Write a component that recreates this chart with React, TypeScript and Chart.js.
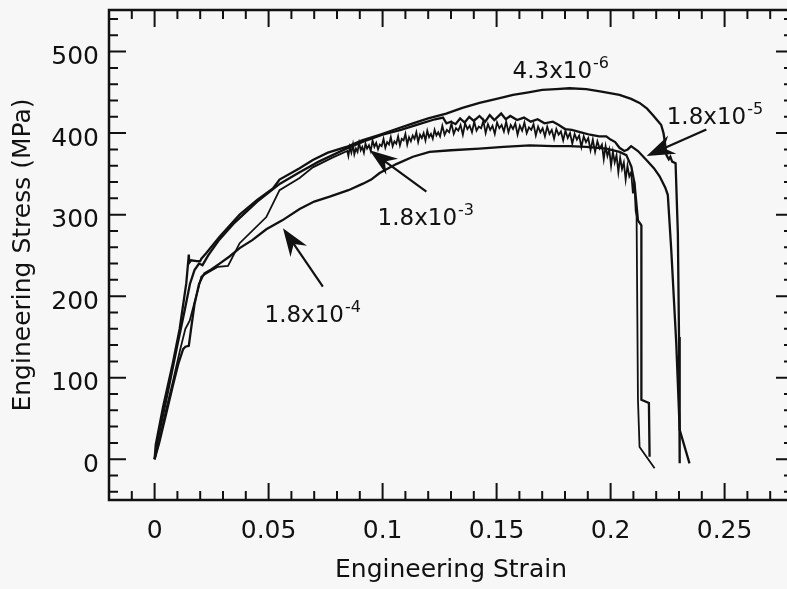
import { useEffect, useRef } from 'react';
import { Chart, registerables } from 'chart.js';

Chart.register(...registerables);

// ---- axis ticks ----
const strainTicks = [0, 0.05, 0.1, 0.15, 0.2, 0.25];
const strainTickLabels = ['0', '0.05', '0.1', '0.15', '0.2', '0.25'];
const stressTicks = [0, 100, 200, 300, 400, 500];
const stressTickLabels = ['0', '100', '200', '300', '400', '500'];

// ---- curve: strain rate 4.3x10^-6 ----
const rate43e6Strain = [
  0, 0.0005, 0.0037, 0.008, 0.011, 0.0139, 0.0146, 0.015, 0.0152, 0.016, 0.0185, 0.02, 0.0205,
  0.0227, 0.0285, 0.0373, 0.045, 0.0519, 0.0548, 0.0636, 0.0694, 0.076, 0.0841, 0.091, 0.0987,
  0.106, 0.1133, 0.12, 0.1279, 0.135, 0.1425, 0.15, 0.1572, 0.164, 0.17, 0.176, 0.182, 0.1893,
  0.196, 0.2039, 0.209, 0.2127, 0.216, 0.2186, 0.221, 0.2222, 0.2232, 0.2237, 0.2245, 0.2255,
  0.2262, 0.227, 0.2285, 0.2295, 0.23, 0.2303,
];
const rate43e6Stress = [
  0, 18, 64, 118, 160, 216, 238, 251, 241, 244, 243, 243, 246,
  253, 273, 300, 318, 332, 343, 357, 367, 376, 383, 391, 398,
  405, 412, 418, 424, 431, 437, 442, 447, 450, 453, 454, 455, 454,
  451, 447, 442, 437, 430, 422, 414, 410, 400, 391, 373, 368,
  371, 365, 363, 277, 150, -5,
];

// ---- curve: strain rate 1.8x10^-5 ----
const rate18e5Strain = [
  0, 0.0015, 0.006, 0.01, 0.013, 0.0155, 0.0175, 0.0195, 0.021, 0.0235, 0.028, 0.035, 0.045,
  0.055, 0.0636, 0.072, 0.0841, 0.092, 0.1, 0.108, 0.116, 0.123, 0.1265, 0.128, 0.13, 0.132,
  0.134, 0.136, 0.138, 0.14, 0.1425, 0.145, 0.147, 0.149, 0.152, 0.154, 0.156, 0.159, 0.162,
  0.165, 0.168, 0.171, 0.1747, 0.1773, 0.18, 0.183, 0.187, 0.191, 0.195, 0.1981, 0.2, 0.202,
  0.2039, 0.206, 0.2075, 0.209, 0.212, 0.2157, 0.219, 0.2215, 0.224, 0.2251, 0.2266, 0.2288,
  0.2303, 0.2346,
];
const rate18e5Stress = [
  0, 25, 85, 140, 180, 215, 232, 240, 238, 250, 268, 290, 316,
  338, 352, 365, 381, 390, 398, 404, 411, 417, 419, 412, 414, 411,
  418, 413, 420, 415, 421, 414, 422, 416, 424, 417, 421, 416, 419,
  414, 417, 412, 414, 410, 405, 404, 401, 398, 396, 396, 392, 389,
  382, 378, 380, 384, 378, 367, 357, 347, 333, 324, 257, 142,
  36, -5,
];

// ---- curve: strain rate 1.8x10^-3 (serrated) ----
const rate18e3Strain = [
  0, 0.002, 0.005, 0.008, 0.011, 0.0135, 0.0154, 0.0168, 0.019, 0.0205, 0.0234, 0.0278, 0.0322,
  0.0373, 0.049, 0.0548, 0.0636, 0.0694, 0.078, 0.0845,
  0.085, 0.0856, 0.0863, 0.087, 0.0876, 0.0883, 0.089, 0.0897, 0.0904, 0.0911, 0.0918, 0.0925,
  0.0932, 0.094, 0.0948, 0.0956, 0.0964, 0.0972, 0.098, 0.0988, 0.0996, 0.1004, 0.1012, 0.102,
  0.1028, 0.1036, 0.1044, 0.1052, 0.106, 0.1068, 0.1076, 0.1084, 0.1092, 0.11, 0.1108, 0.1116,
  0.1124, 0.1132, 0.114, 0.1148, 0.1156, 0.1164, 0.1172, 0.118, 0.1188, 0.1196, 0.1204, 0.1212,
  0.122, 0.1228, 0.1236, 0.1244, 0.1252, 0.1262, 0.1272, 0.1282, 0.1292, 0.1302, 0.1312, 0.1322,
  0.1332, 0.1342, 0.1352, 0.1362, 0.1372, 0.1382, 0.1392, 0.1402, 0.1412, 0.1422, 0.1432, 0.1442,
  0.1452, 0.1462, 0.1472, 0.1482, 0.1492, 0.1502, 0.1512, 0.1522, 0.1532, 0.1542, 0.1552, 0.1562,
  0.1572, 0.1582, 0.1592, 0.1602, 0.1612, 0.1622, 0.1632, 0.1642, 0.1652, 0.1662, 0.1672, 0.1682,
  0.1692, 0.1702, 0.1712, 0.1722, 0.1732, 0.1742, 0.1752, 0.1762, 0.1772, 0.1782, 0.1792, 0.1802,
  0.1812, 0.1822, 0.1832, 0.1842, 0.1852, 0.1862, 0.1872, 0.1882, 0.1892, 0.1902, 0.1912, 0.1922,
  0.1932, 0.1942, 0.1952, 0.1962, 0.197, 0.1978, 0.1986, 0.1994, 0.2002, 0.201, 0.2018, 0.2026,
  0.2034, 0.2042, 0.205, 0.2058, 0.2066, 0.2074, 0.2082, 0.209, 0.2098, 0.2104, 0.211, 0.2114,
  0.212, 0.2127, 0.2193,
];
const rate18e3Stress = [
  0, 22, 60, 95, 132, 160, 170, 185, 208, 224, 229, 236, 237,
  265, 297, 330, 345, 358, 370, 378,
  372, 383, 376, 386, 374, 381, 377, 388, 379, 383, 376, 387,
  381, 385, 378, 391, 383, 388, 380, 386, 384, 393, 382, 389,
  386, 395, 384, 390, 387, 396, 385, 393, 391, 399, 386, 395,
  390, 397, 393, 401, 389, 398, 394, 400, 391, 403, 395, 399,
  393, 404, 397, 401, 396, 409, 398, 404, 401, 412, 399, 406,
  403, 410, 398, 412, 405, 409, 401, 414, 403, 408, 406, 415,
  400, 411, 404, 409, 399, 413, 406, 410, 402, 414, 401, 410,
  405, 412, 398, 409, 403, 413, 400, 407, 404, 411, 397, 408,
  401, 406, 396, 408, 399, 404, 393, 405, 398, 402, 391, 403,
  394, 400, 387, 399, 392, 397, 383, 396, 389, 394, 379, 392,
  377, 390, 381, 386, 368, 384, 372, 380, 360, 377, 364, 373,
  352, 370, 356, 364, 343, 360, 347, 352, 326, 341, 305, 298,
  73, 15, -11,
];

// ---- curve: strain rate 1.8x10^-4 ----
const rate18e4Strain = [
  0, 0.002, 0.005, 0.008, 0.0105, 0.0125, 0.0135, 0.015, 0.016, 0.0175, 0.0195, 0.021, 0.0219,
  0.025, 0.0285, 0.033, 0.0373, 0.043, 0.049, 0.056, 0.0636, 0.07, 0.0768, 0.085, 0.0914, 0.095,
  0.0987, 0.106, 0.1133, 0.1206, 0.13, 0.1425, 0.153, 0.1645, 0.1747, 0.182, 0.1893, 0.1981,
  0.2039, 0.2069, 0.2091, 0.2105, 0.212, 0.2135, 0.2135, 0.2168, 0.2171,
];
const rate18e4Stress = [
  0, 20, 55, 90, 118, 135, 138, 139, 160, 190, 215, 224, 228,
  233, 240, 249, 259, 269, 282, 293, 307, 316, 322, 330, 338, 343,
  351, 362, 371, 377, 379, 381, 383, 385, 384, 384, 383, 381,
  377, 373, 359, 338, 293, 287, 73, 69, 3,
];

// ---- annotations (data coordinates) ----
const labelTexts = ['4.3x10', '1.8x10', '1.8x10', '1.8x10'];
const labelExponents = ['-6', '-5', '-3', '-4'];
const labelStrain = [0.157, 0.2246, 0.0978, 0.0482];
const labelStress = [467.7, 411.3, 287.4, 168.3];

const arrowTailStrain = [0.242, 0.1192, 0.0738];
const arrowTailStress = [404.5, 328.2, 211.7];
const arrowTipStrain = [0.2158, 0.0943, 0.0563];
const arrowTipStress = [372, 379, 283.3];

const FONT = "'DejaVu Sans', 'Liberation Sans', sans-serif";
const INK = '#111111';

function toPoints(xs: number[], ys: number[]) {
  return xs.map((x, i) => ({ x, y: ys[i] }));
}

const backgroundPlugin = {
  id: 'bgfill',
  beforeDraw(chart: any) {
    const { ctx, width, height } = chart;
    ctx.save();
    ctx.fillStyle = '#f7f7f7';
    ctx.fillRect(0, 0, width, height);
    ctx.restore();
  },
};

const framePlugin = {
  id: 'frameTicks',
  afterDraw(chart: any) {
    const { ctx, chartArea: a, scales } = chart;
    const xs = scales.x;
    const ys = scales.y;
    ctx.save();
    ctx.strokeStyle = INK;
    ctx.lineWidth = 2.5;
    ctx.strokeRect(a.left, a.top, a.right - a.left, a.bottom - a.top);
    ctx.lineWidth = 2;
    ctx.beginPath();
    for (let i = -2; i <= 28; i++) {
      const p = xs.getPixelForValue(i / 100);
      const len = i % 5 === 0 ? 17 : 9;
      ctx.moveTo(p, a.bottom);
      ctx.lineTo(p, a.bottom - len);
      ctx.moveTo(p, a.top);
      ctx.lineTo(p, a.top + len);
    }
    for (let v = -40; v <= 540; v += 20) {
      const p = ys.getPixelForValue(v);
      const len = v % 100 === 0 ? 17 : 9;
      ctx.moveTo(a.left, p);
      ctx.lineTo(a.left + len, p);
      ctx.moveTo(a.right, p);
      ctx.lineTo(a.right - len, p);
    }
    ctx.stroke();

    // labels
    ctx.fillStyle = INK;
    ctx.textBaseline = 'alphabetic';
    ctx.textAlign = 'left';
    for (let i = 0; i < labelTexts.length; i++) {
      const px = xs.getPixelForValue(labelStrain[i]);
      const py = ys.getPixelForValue(labelStress[i]);
      ctx.font = `23px ${FONT}`;
      ctx.fillText(labelTexts[i], px, py);
      const w = ctx.measureText(labelTexts[i]).width;
      ctx.font = `16px ${FONT}`;
      ctx.fillText(labelExponents[i], px + w + 1, py - 10);
    }

    // arrows
    for (let i = 0; i < arrowTailStrain.length; i++) {
      const tx = xs.getPixelForValue(arrowTailStrain[i]);
      const ty = ys.getPixelForValue(arrowTailStress[i]);
      const hx = xs.getPixelForValue(arrowTipStrain[i]);
      const hy = ys.getPixelForValue(arrowTipStress[i]);
      const dx = tx - hx;
      const dy = ty - hy;
      const len = Math.hypot(dx, dy);
      const ux = dx / len;
      const uy = dy / len;
      const nx = -uy;
      const ny = ux;
      const L = 28;
      const W = 10;
      const N = 19;
      ctx.lineWidth = 2.2;
      ctx.beginPath();
      ctx.moveTo(tx, ty);
      ctx.lineTo(hx + ux * N, hy + uy * N);
      ctx.stroke();
      ctx.beginPath();
      ctx.moveTo(hx, hy);
      ctx.lineTo(hx + ux * L + nx * W, hy + uy * L + ny * W);
      ctx.lineTo(hx + ux * N, hy + uy * N);
      ctx.lineTo(hx + ux * L - nx * W, hy + uy * L - ny * W);
      ctx.closePath();
      ctx.fill();
    }
    ctx.restore();
  },
};

export default function App() {
  const canvasRef = useRef<HTMLCanvasElement | null>(null);

  useEffect(() => {
    const canvas = canvasRef.current;
    if (!canvas) return;
    const lineStyle = {
      borderColor: INK,
      borderWidth: 2.3,
      pointRadius: 0,
      pointHoverRadius: 0,
      fill: false,
      tension: 0,
    };
    const chart = new Chart(canvas, {
      type: 'line',
      data: {
        datasets: [
          { label: '4.3x10^-6', data: toPoints(rate43e6Strain, rate43e6Stress), ...lineStyle },
          { label: '1.8x10^-5', data: toPoints(rate18e5Strain, rate18e5Stress), ...lineStyle },
          { label: '1.8x10^-3', data: toPoints(rate18e3Strain, rate18e3Stress), ...lineStyle, borderWidth: 1.8 },
          { label: '1.8x10^-4', data: toPoints(rate18e4Strain, rate18e4Stress), ...lineStyle },
        ],
      },
      options: {
        responsive: false,
        maintainAspectRatio: false,
        animation: false,
        devicePixelRatio: 1,
        layout: { padding: { top: 10, right: 7, left: 0, bottom: 0 } },
        plugins: {
          legend: { display: false },
          tooltip: { enabled: false },
        },
        events: [],
        scales: {
          x: {
            type: 'linear',
            min: -0.02,
            max: 0.28,
            afterBuildTicks: (s: any) => {
              s.ticks = strainTicks.map((v) => ({ value: v }));
            },
            afterFit: (s: any) => {
              s.height = 89;
              s.paddingLeft = 0;
              s.paddingRight = 0;
            },
            grid: { display: false, drawTicks: false },
            border: { display: false },
            ticks: {
              autoSkip: false,
              maxRotation: 0,
              padding: 16,
              color: INK,
              font: { family: FONT, size: 25 },
              callback: (_v: any, i: number) => strainTickLabels[i],
            },
            title: {
              display: true,
              text: 'Engineering Strain',
              color: INK,
              font: { family: FONT, size: 25 },
              padding: { top: 0, bottom: 4 },
            },
          },
          y: {
            type: 'linear',
            min: -50,
            max: 551,
            afterBuildTicks: (s: any) => {
              s.ticks = stressTicks.map((v) => ({ value: v }));
            },
            afterFit: (s: any) => {
              s.width = 109;
              s.paddingTop = 0;
              s.paddingBottom = 0;
            },
            grid: { display: false, drawTicks: false },
            border: { display: false },
            ticks: {
              autoSkip: false,
              padding: 10,
              labelOffset: 6,
              color: INK,
              font: { family: FONT, size: 25 },
              callback: (_v: any, i: number) => stressTickLabels[i],
            },
            title: {
              display: true,
              text: 'Engineering Stress (MPa)',
              color: INK,
              font: { family: FONT, size: 25 },
              padding: { top: 8, bottom: 0 },
            },
          },
        },
      },
      plugins: [backgroundPlugin, framePlugin],
    } as any);
    return () => chart.destroy();
  }, []);

  return (
    <div
      style={{
        position: 'absolute',
        left: 0,
        top: 0,
        width: 787,
        height: 589,
        overflow: 'hidden',
        background: '#f7f7f7',
      }}
    >
      <canvas ref={canvasRef} width={800} height={589} style={{ width: 800, height: 589, display: 'block' }} />
    </div>
  );
}
